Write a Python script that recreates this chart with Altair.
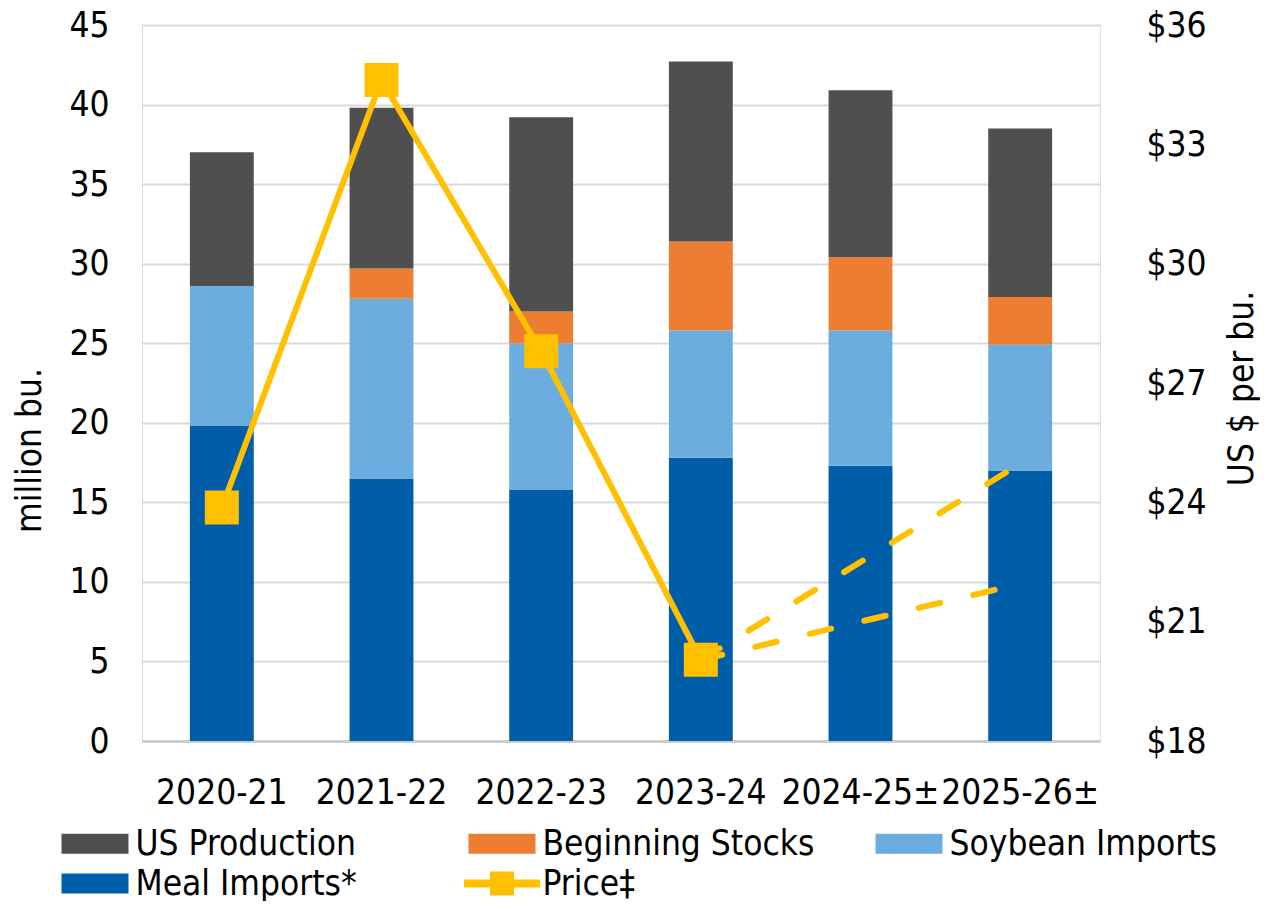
import altair as alt
import pandas as pd

# ---- data ----
categories = ["2020-21", "2021-22", "2022-23", "2023-24", "2024-25±", "2025-26±"]
meal_imports = [19.8, 16.5, 15.8, 17.8, 17.3, 17.0]
soybean_imports = [8.8, 11.3, 9.2, 8.0, 8.5, 7.9]
beginning_stocks = [0.0, 1.9, 2.0, 5.6, 4.6, 3.0]
us_production = [8.4, 10.1, 12.2, 11.3, 10.5, 10.6]

price_categories = ["2020-21", "2021-22", "2022-23", "2023-24"]
price_values = [23.87, 34.62, 27.80, 20.04]

proj_categories = ["2023-24", "2024-25±", "2025-26±"]
proj_high = [20.04, 22.5, 24.97]
proj_low = [20.04, 21.0, 21.95]

series_names = ["US Production", "Beginning Stocks", "Soybean Imports", "Meal Imports*", "Price‡"]
series_colors = ["#4F4F4F", "#ED7D31", "#6CADDF", "#005DA8", "#FFC000"]

left_ticks = [0, 5, 10, 15, 20, 25, 30, 35, 40, 45]
right_ticks = [18, 21, 24, 27, 30, 33, 36]

FONT = "DejaVu Sans Condensed"
FS = 35

# ---- tables ----
stack = [("Meal Imports*", meal_imports), ("Soybean Imports", soybean_imports),
         ("Beginning Stocks", beginning_stocks), ("US Production", us_production)]
rows = []
for order, (name, vals) in enumerate(stack):
    for c, v in zip(categories, vals):
        rows.append({"category": c, "series": name, "value": v, "order": order})
bar_df = pd.DataFrame(rows)

price_df = pd.DataFrame({"category": price_categories, "price": price_values})
proj_df = pd.DataFrame(
    [{"category": c, "price": v, "bound": "high"} for c, v in zip(proj_categories, proj_high)]
    + [{"category": c, "price": v, "bound": "low"} for c, v in zip(proj_categories, proj_low)]
)

x_enc = alt.X(
    "category:N",
    sort=categories,
    scale=alt.Scale(domain=categories, paddingInner=0.6, paddingOuter=0.3),
    axis=alt.Axis(title=None, labelAngle=0, labelFontSize=FS, labelFont=FONT, labelColor="#000000",
                  labelPadding=34, ticks=False, domainColor="#C8C8C8", domainWidth=2.5,
                  labelLimit=400),
)

rect_path = "M-2.233,-0.667H2.233V0.667H-2.233Z"
price_path = "M-2.53,-0.267H2.53V0.267H-2.53Z M-0.8,-0.8H0.8V0.8H-0.8Z"
shape_expr = "datum.value === 'Price‡' ? '" + price_path + "' : '" + rect_path + "'"

bars = alt.Chart(bar_df).mark_bar().encode(
    x=x_enc,
    y=alt.Y(
        "value:Q",
        stack="zero",
        scale=alt.Scale(domain=[0, 45], nice=False),
        axis=alt.Axis(values=left_ticks, title="million bu.", titleFontSize=FS, titleFont=FONT,
                      titleFontWeight="normal", titleColor="#000000", titleAngle=270,
                      titleBaseline="middle", titleAlign="center", titleX=-113, titleY=425,
                      labelFontSize=FS, labelFont=FONT, labelColor="#000000", labelPadding=33,
                      ticks=False, domain=False, gridColor="#D9D9D9", gridWidth=2),
    ),
    color=alt.Color(
        "series:N",
        scale=alt.Scale(domain=series_names, range=series_colors),
        legend=alt.Legend(
            title=None, orient="none", legendX=-83, legendY=801, columns=3,
            direction="horizontal", gridAlign="all", columnPadding=56, rowPadding=4,
            labelFontSize=FS, labelFont=FONT, labelColor="#000000", labelLimit=500,
            symbolSize=900, symbolOffset=18.5, labelOffset=23, symbolStrokeWidth=0,
            padding=0, symbolOpacity=1,
            symbolType=alt.ExprRef(expr=shape_expr),
        ),
    ),
    order=alt.Order("order:Q", sort="ascending"),
)

y_price = alt.Y(
    "price:Q",
    scale=alt.Scale(domain=[18, 36], nice=False),
    axis=alt.Axis(orient="right", values=right_ticks, labelExpr="'$' + datum.value",
                  title="US $ per bu.", titleFontSize=FS, titleFont=FONT, titleFontWeight="normal",
                  titleColor="#000000", titleAngle=270, titleBaseline="middle", titleAlign="center",
                  titleX=141, titleY=363, labelFontSize=FS, labelFont=FONT, labelColor="#000000",
                  labelPadding=46, ticks=False, domain=False, grid=False),
)

dashed = alt.Chart(proj_df).mark_line(
    color="#FFC000", strokeWidth=6, strokeDash=[22, 34], strokeCap="round"
).encode(x=x_enc, y=y_price, detail="bound:N")

line = alt.Chart(price_df).mark_line(color="#FFC000", strokeWidth=6).encode(x=x_enc, y=y_price)

points = alt.Chart(price_df).mark_point(
    shape="square", filled=True, size=1156, color="#FFC000", opacity=1
).encode(x=x_enc, y=y_price)

price_layer = alt.layer(dashed, line, points)

chart = alt.layer(bars, price_layer).resolve_scale(y="independent").properties(
    width=958,
    height=716,
    autosize=alt.AutoSizeParams(type="none"),
    padding={"left": 134, "top": 17, "right": 160, "bottom": 160},
).configure_view(strokeWidth=0, stroke="transparent").configure(background="#FFFFFF")

chart.save("out.html", embed_options={"renderer": "svg", "actions": False})
